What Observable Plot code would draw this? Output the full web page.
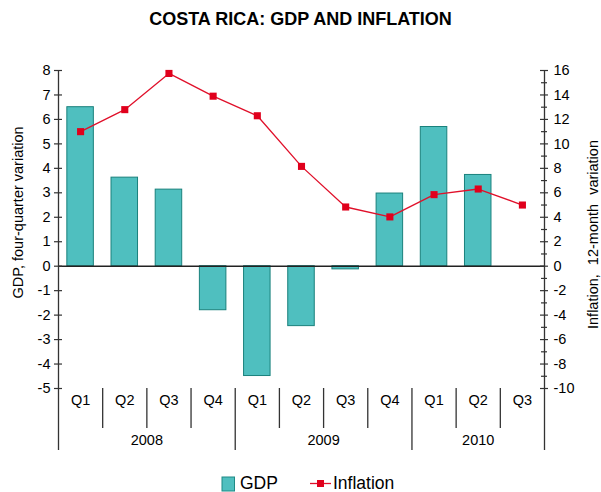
<!DOCTYPE html>
<html>
<head>
<meta charset="utf-8">
<script src="https://cdn.jsdelivr.net/npm/d3@7"></script>
<script src="https://cdn.jsdelivr.net/npm/@observablehq/plot@0.6"></script>
<style>
  html, body { margin: 0; padding: 0; background: #fff; }
  body { font-family: "Liberation Sans", Arial, sans-serif; }
  #wrap { position: relative; width: 601px; height: 492px; overflow: hidden; }
  #title { position: absolute; left: 0; top: 9px; width: 601px; text-align: center;
           font-weight: bold; font-size: 18px; color: #000; }
  #legend { position: absolute; left: 0; top: 468px; width: 601px; height: 24px; font-size: 17px; color: #000; }
  #chart { position: absolute; left: 0; top: 0; }
</style>
</head>
<body>
<div id="wrap">
  <div id="chart"></div>
  <div id="title">COSTA RICA: GDP AND INFLATION</div>
  <div id="legend">
    <svg width="601" height="24" style="position:absolute;left:0;top:0">
      <rect x="222" y="9" width="12.5" height="14" fill="#4fbfbf" stroke="#1f8a85" stroke-width="1"></rect>
      <text x="240" y="21" font-size="17.5" font-family="Liberation Sans, Arial, sans-serif">GDP</text>
      <line x1="310" y1="15.5" x2="331" y2="15.5" stroke="#e0102a" stroke-width="1.3"></line>
      <rect x="317" y="12" width="7" height="7" fill="#e0001c"></rect>
      <text x="333" y="21" font-size="17.5" font-family="Liberation Sans, Arial, sans-serif">Inflation</text>
    </svg>
  </div>
</div>
<script>
const years = ["2008","2008","2008","2008","2009","2009","2009","2009","2010","2010","2010"];
const quarters = ["Q1","Q2","Q3","Q4","Q1","Q2","Q3","Q4","Q1","Q2","Q3"];
const gdp = [6.5, 3.62, 3.13, -1.8, -4.49, -2.45, -0.13, 2.97, 5.69, 3.73, null];
const inflation = [11.0, 12.8, 15.76, 13.9, 12.3, 8.16, 4.84, 4.03, 5.85, 6.31, 5.0];
const leftTicks = [-5,-4,-3,-2,-1,0,1,2,3,4,5,6,7,8];
const rightTicks = [-10,-8,-6,-4,-2,0,2,4,6,8,10,12,14,16];
const rightMinor = [-9,-7,-5,-3,-1,1,3,5,7,9,11,13,15];
const leftTitle = "GDP, four-quarter variation";
const rightTitle = "Inflation, 12-month variation";

const rows = quarters.map((q, i) => ({i, quarter: q, year: years[i], gdp: gdp[i], inflation: inflation[i]}));
const yearGroups = Array.from(d3.group(rows, d => d.year), ([year, g]) => ({year, center: d3.mean(g, d => d.i), start: g[0].i}));

const W = 601, H = 492, mL = 58, mR = 57, mT = 70, mB = 104;
const fw = W - mL - mR, fh = H - mT - mB;
const axisColor = "#333";
const font = "Liberation Sans, Arial, sans-serif";

const chart = Plot.plot({
  width: W, height: H,
  marginLeft: mL, marginRight: mR, marginTop: mT, marginBottom: mB,
  style: {fontFamily: font, fontSize: "14px", color: "#000", background: "transparent"},
  x: {type: "linear", domain: [-0.5, rows.length - 0.5], axis: null},
  y: {domain: [-5, 8], axis: null},
  marks: [
    // bars
    Plot.rectY(rows.filter(d => d.gdp != null), {
      x1: d => d.i - 0.3, x2: d => d.i + 0.3, y1: 0, y2: "gdp",
      fill: "#4fbfbf", stroke: "#1a817c", strokeWidth: 1
    }),
    // zero line
    Plot.ruleY([0], {stroke: "#222", strokeWidth: 1.5}),
    // inflation (right scale = 2 × left)
    Plot.line(rows, {x: "i", y: d => d.inflation / 2, stroke: "#e0102a", strokeWidth: 1.3}),
    Plot.dot(rows, {x: "i", y: d => d.inflation / 2, symbol: "square", r: 4, fill: "#e0001c", stroke: "none"}),
    // left axis line & ticks
    Plot.ruleX([-0.5], {stroke: axisColor, strokeWidth: 1.3, insetBottom: -62}),
    Plot.ruleY(leftTicks, {y: d => d, stroke: axisColor, strokeWidth: 1.2, insetLeft: -4, insetRight: fw - 4}),
    Plot.text(leftTicks, {y: d => d, text: d => String(d), frameAnchor: "left", dx: -8, textAnchor: "end", fontSize: 14.5}),
    // right axis line & ticks
    Plot.ruleX([rows.length - 0.5], {stroke: axisColor, strokeWidth: 1.3, insetBottom: -62}),
    Plot.ruleY(rightTicks, {y: d => d / 2, stroke: axisColor, strokeWidth: 1.2, insetLeft: fw - 4, insetRight: -4}),
    Plot.ruleY(rightMinor, {y: d => d / 2, stroke: axisColor, strokeWidth: 1.2, insetLeft: fw - 3, insetRight: -3}),
    Plot.text(rightTicks, {y: d => d / 2, text: d => String(d), frameAnchor: "right", dx: 9, textAnchor: "start", fontSize: 14.5}),
    // axis titles
    Plot.text([leftTitle], {text: d => d, frameAnchor: "left", textAnchor: "middle", rotate: -90, dx: -40, dy: -17, fontSize: 14.5}),
    Plot.text([rightTitle], {text: d => d, frameAnchor: "right", textAnchor: "middle", rotate: -90, dx: 49, dy: 5, fontSize: 14.5}),
    // category axis: quarter separators and labels
    Plot.ruleX(rows.filter(d => d.quarter !== "Q1"), {x: d => d.i - 0.5, stroke: axisColor, strokeWidth: 1.3, insetTop: fh, insetBottom: -40}),
    Plot.ruleX(yearGroups.filter(g => g.start > 0), {x: d => d.start - 0.5, stroke: axisColor, strokeWidth: 1.3, insetTop: fh, insetBottom: -62}),
    Plot.text(rows, {x: "i", text: "quarter", frameAnchor: "bottom", dy: 16, fontSize: 14.5}),
    Plot.text(yearGroups, {x: "center", text: "year", frameAnchor: "bottom", dy: 56, fontSize: 14.5})
  ]
});
d3.select(chart).selectAll("text")
  .filter(function() { return this.textContent === rightTitle; })
  .style("word-spacing", "5px");
document.getElementById("chart").appendChild(chart);
</script>
</body>
</html>
